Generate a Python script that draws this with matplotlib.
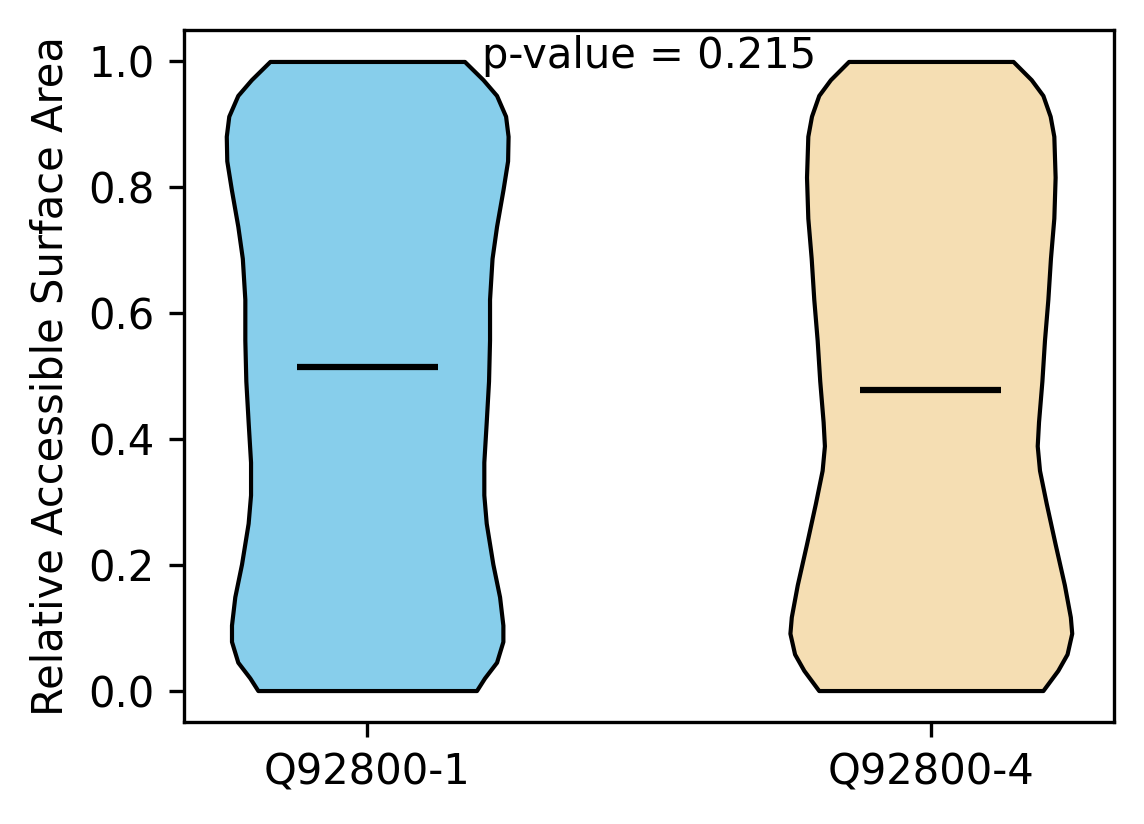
import matplotlib
matplotlib.use("Agg")
import matplotlib.pyplot as plt

# groups
labels = ["Q92800-1", "Q92800-4"]
colors = ["skyblue", "wheat"]
p_value = 0.215

# density profile (y value, relative half-width)
coords_1 = [0.000, 0.020, 0.045, 0.078, 0.104, 0.149, 0.201, 0.266, 0.311, 0.363,
            0.427, 0.492, 0.557, 0.622, 0.687, 0.738, 0.797, 0.842, 0.881, 0.913,
            0.946, 0.971, 1.000]
dens_1 = [109, 117, 129, 135.3, 135.3, 132, 125.3, 118.7, 116.3, 116.3,
          118.7, 121, 122, 122, 124.5, 129, 135.5, 140, 140.5, 138,
          129, 115.5, 97]
mean_1 = 0.515

coords_2 = [0.000, 0.032, 0.058, 0.091, 0.117, 0.168, 0.233, 0.298, 0.350, 0.389,
            0.427, 0.492, 0.557, 0.622, 0.687, 0.751, 0.816, 0.881, 0.913, 0.946,
            0.971, 1.000]
dens_2 = [112.7, 127.7, 137, 141.7, 140.3, 134.3, 125, 116, 109.3, 107,
          108.3, 111.7, 114.3, 117.7, 120.3, 123.7, 125, 123.7, 120, 112.7,
          101, 82.7]
mean_2 = 0.478

stats = [
    {"coords": coords_1, "vals": dens_1, "mean": mean_1, "median": mean_1,
     "min": min(coords_1), "max": max(coords_1)},
    {"coords": coords_2, "vals": dens_2, "mean": mean_2, "median": mean_2,
     "min": min(coords_2), "max": max(coords_2)},
]

fig = plt.figure(figsize=(1144 / 300, 824 / 300), dpi=300)
ax = fig.add_axes([184 / 1144, 102 / 824, 930 / 1144, 692 / 824])

parts = ax.violin(stats, positions=[1, 2], widths=0.5,
                  showmeans=True, showextrema=False, showmedians=False)
for body, c in zip(parts["bodies"], colors):
    body.set_facecolor(c)
    body.set_edgecolor("black")
    body.set_linewidth(1)
    body.set_alpha(1)
parts["cmeans"].set_color("black")
parts["cmeans"].set_linewidth(1.5)

ax.set_xticks([1, 2])
ax.set_xticklabels(labels)
ax.set_xlim(0.675, 2.325)
ax.set_ylim(-0.05, 1.05)
ax.set_ylabel("Relative Accessible Surface Area")

ax.text(1.5, 0.99, "p-value = " + str(p_value), ha="center", va="baseline", fontsize=10)

fig.savefig("out.png", dpi=300)
